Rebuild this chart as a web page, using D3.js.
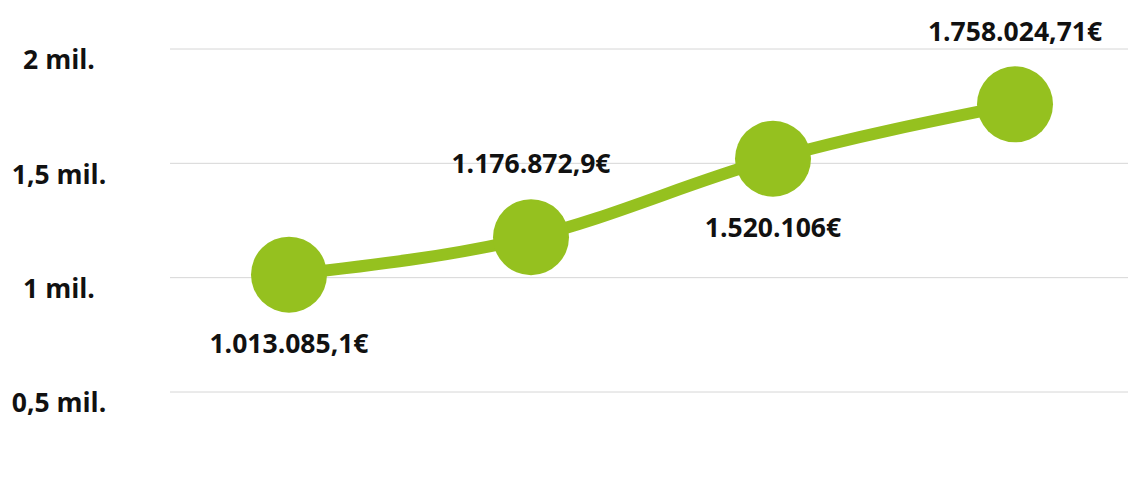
<!DOCTYPE html>
<html>
<head>
<meta charset="utf-8">
<script src="https://cdn.jsdelivr.net/npm/d3@7"></script>
<style>
	body { margin: 0; background: #fff; }
	svg text { font-family: "Open Sans", sans-serif; font-weight: 700; fill: #111; }
</style>
</head>
<body>
<svg id="chart"></svg>
<script>
// data
let periods = ['p1', 'p2', 'p3', 'p4'];
let values = [1013085.1, 1176872.9, 1520106, 1758024.71];
let valueLabels = ['1.013.085,1€', '1.176.872,9€', '1.520.106€', '1.758.024,71€'];
let tickValues = [500000, 1000000, 1500000, 2000000];
let tickLabels = ['0,5 mil.', '1 mil.', '1,5 mil.', '2 mil.'];

let w = 1128, h = 500;
let green = '#95c11f';

let chart = d3.select('#chart')
	.attr('width', w)
	.attr('height', h);

let dataset = periods.map((p, i) => ({ period: p, value: values[i], label: valueLabels[i] }));

let xScale = d3.scalePoint()
	.domain(periods)
	.range([168, 1136])
	.padding(0.5);

let yScale = d3.scaleLinear()
	.domain([500000, 2000000])
	.range([392, 49]);

// gridlines
chart.append('g')
	.selectAll('line')
	.data(tickValues)
	.enter()
	.append('line')
	.attr('x1', 170)
	.attr('x2', w)
	.attr('y1', (d) => yScale(d))
	.attr('y2', (d) => yScale(d))
	.attr('stroke', '#d6d6d6')
	.attr('stroke-width', 1);

// y tick labels
chart.append('g')
	.selectAll('text')
	.data(tickValues)
	.enter()
	.append('text')
	.attr('x', 59)
	.attr('y', (d) => yScale(d) + 11)
	.attr('dy', '0.35em')
	.style('text-anchor', 'middle')
	.style('font-size', '26.5px')
	.text((d, i) => tickLabels[i]);

// line
let line = d3.line()
	.x((d) => xScale(d.period))
	.y((d) => yScale(d.value))
	.curve(d3.curveMonotoneX);

chart.append('path')
	.datum(dataset)
	.attr('d', line)
	.attr('fill', 'none')
	.attr('stroke', green)
	.attr('stroke-width', 12);

// dots
chart.append('g')
	.selectAll('circle')
	.data(dataset)
	.enter()
	.append('circle')
	.attr('cx', (d) => xScale(d.period))
	.attr('cy', (d) => yScale(d.value))
	.attr('r', 38)
	.attr('fill', green);

// value labels, alternating below / above
chart.append('g')
	.selectAll('text')
	.data(dataset)
	.enter()
	.append('text')
	.attr('x', (d) => xScale(d.period))
	.attr('y', (d, i) => yScale(d.value) + (i % 2 == 0 ? 69 : -73))
	.attr('dy', '0.35em')
	.style('text-anchor', 'middle')
	.style('font-size', '26.5px')
	.text((d) => d.label);
</script>
</body>
</html>
